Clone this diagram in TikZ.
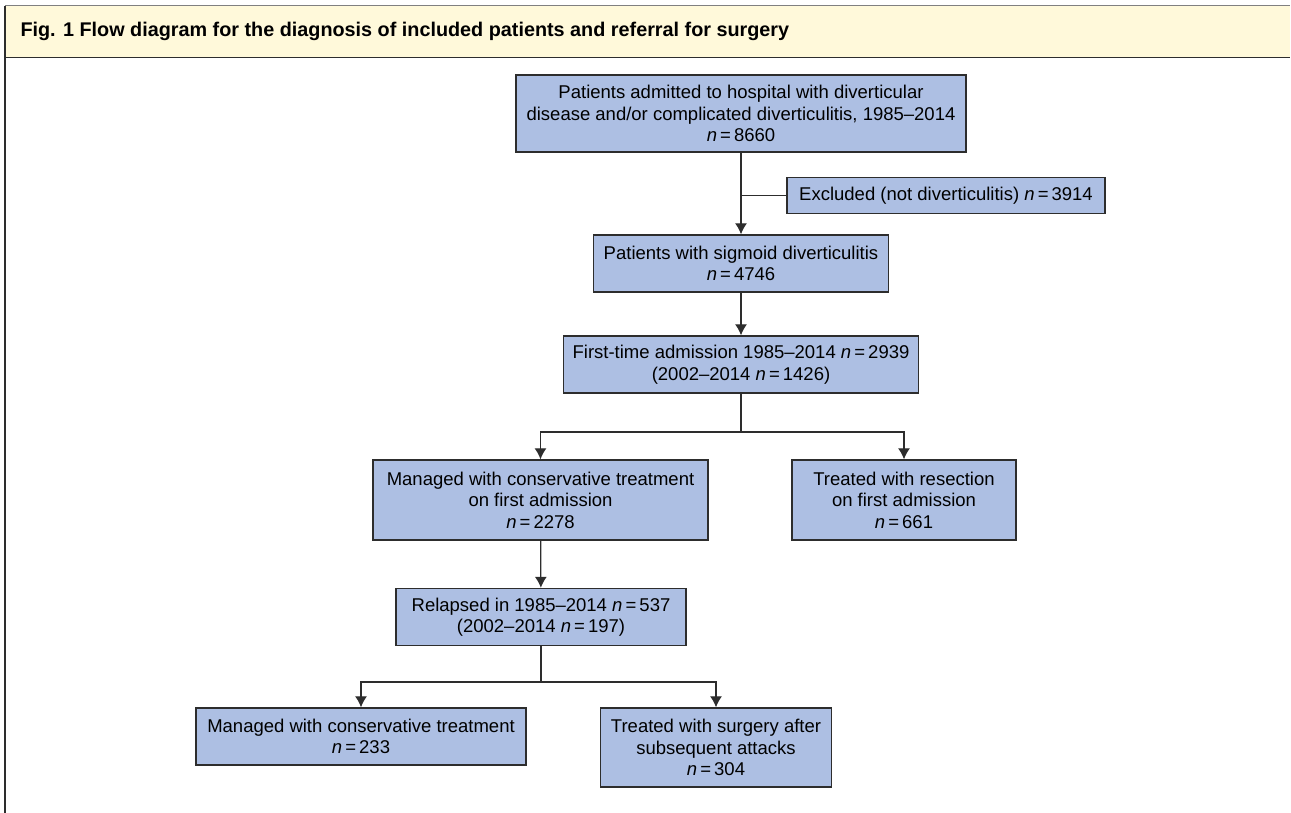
\documentclass[tikz,border=0pt]{standalone}
\usepackage{fontspec}
\setmainfont{Liberation Sans}
\usetikzlibrary{arrows.meta}
\definecolor{boxblue}{RGB}{173,191,227}
\definecolor{headcream}{RGB}{255,249,218}
\definecolor{edgegray}{RGB}{45,45,45}
\tikzset{
  flowbox/.style={draw=edgegray, fill=boxblue, line width=1.4pt, align=center,
    inner sep=0pt, font=\fontsize{18.5}{21.5}\selectfont},
  link/.style={draw=edgegray, line width=1.2pt}
}
\newcommand{\nval}[1]{\textit{n}\,=\,#1}
\begin{document}
\begin{tikzpicture}[x=1pt,y=1pt,>={Latex[length=11pt,width=12pt]}]
    \useasboundingbox (0,0) rectangle (1291,-813);
    % header band and frame
    \fill[headcream] (5,-6) rectangle (1290,-57.5);
    \draw[gray, line width=1pt] (5,-6) -- (1290,-6);
    \draw[edgegray, line width=1.6pt] (5,-57.5) -- (1290,-57.5);
    \draw[edgegray, line width=1.2pt] (5,-6) -- (5,-813);
    \node[anchor=west, font=\fontsize{19.8}{22}\selectfont\bfseries] (title) at (17,-31.5)
        {Fig. 1 Flow diagram for the diagnosis of included patients and referral for surgery};
    % boxes
    \node[flowbox, minimum width=450, minimum height=77] (admit) at (741,-113.5)
        {Patients admitted to hospital with diverticular\\disease and/or complicated diverticulitis, 1985--2014\\\nval{8660}};
    \node[flowbox, minimum width=318, minimum height=36] (excl) at (946,-195.5)
        {Excluded (not diverticulitis) \nval{3914}};
    \node[flowbox, minimum width=295, minimum height=57] (sigm) at (741,-263.5)
        {Patients with sigmoid diverticulitis\\\nval{4746}};
    \node[flowbox, minimum width=355, minimum height=57] (first) at (741,-364.5)
        {First-time admission 1985--2014 \nval{2939}\\(2002--2014 \nval{1426})};
    \node[flowbox, minimum width=335, minimum height=80] (cons) at (540.5,-500)
        {Managed with conservative treatment\\on first admission\\\nval{2278}};
    \node[flowbox, minimum width=224, minimum height=80] (resec) at (904,-500)
        {Treated with resection\\on first admission\\\nval{661}};
    \node[flowbox, minimum width=290, minimum height=57] (relap) at (541,-617)
        {Relapsed in 1985--2014 \nval{537}\\(2002--2014 \nval{197})};
    \node[flowbox, minimum width=330, minimum height=57] (consb) at (361,-736.5)
        {Managed with conservative treatment\\\nval{233}};
    \node[flowbox, minimum width=231, minimum height=79] (surg) at (716,-747.5)
        {Treated with surgery after\\subsequent attacks\\\nval{304}};
    % forks
    \coordinate (forkA) at (741,-432);
    \coordinate (forkB) at (541,-682);
    % connectors
    \draw[link, ->] (admit) -- (sigm);
    \draw[link] (admit.south |- excl.west) -- (excl.west);
    \draw[link, ->] (sigm) -- (first);
    \draw[link] (first) -- (forkA);
    \draw[link, ->] (forkA) -| (cons);
    \draw[link, ->] (forkA) -| (resec);
    \draw[link, ->] (cons) -- (relap);
    \draw[link] (relap) -- (forkB);
    \draw[link, ->] (forkB) -| (consb);
    \draw[link, ->] (forkB) -| (surg);
\end{tikzpicture}
\end{document}
